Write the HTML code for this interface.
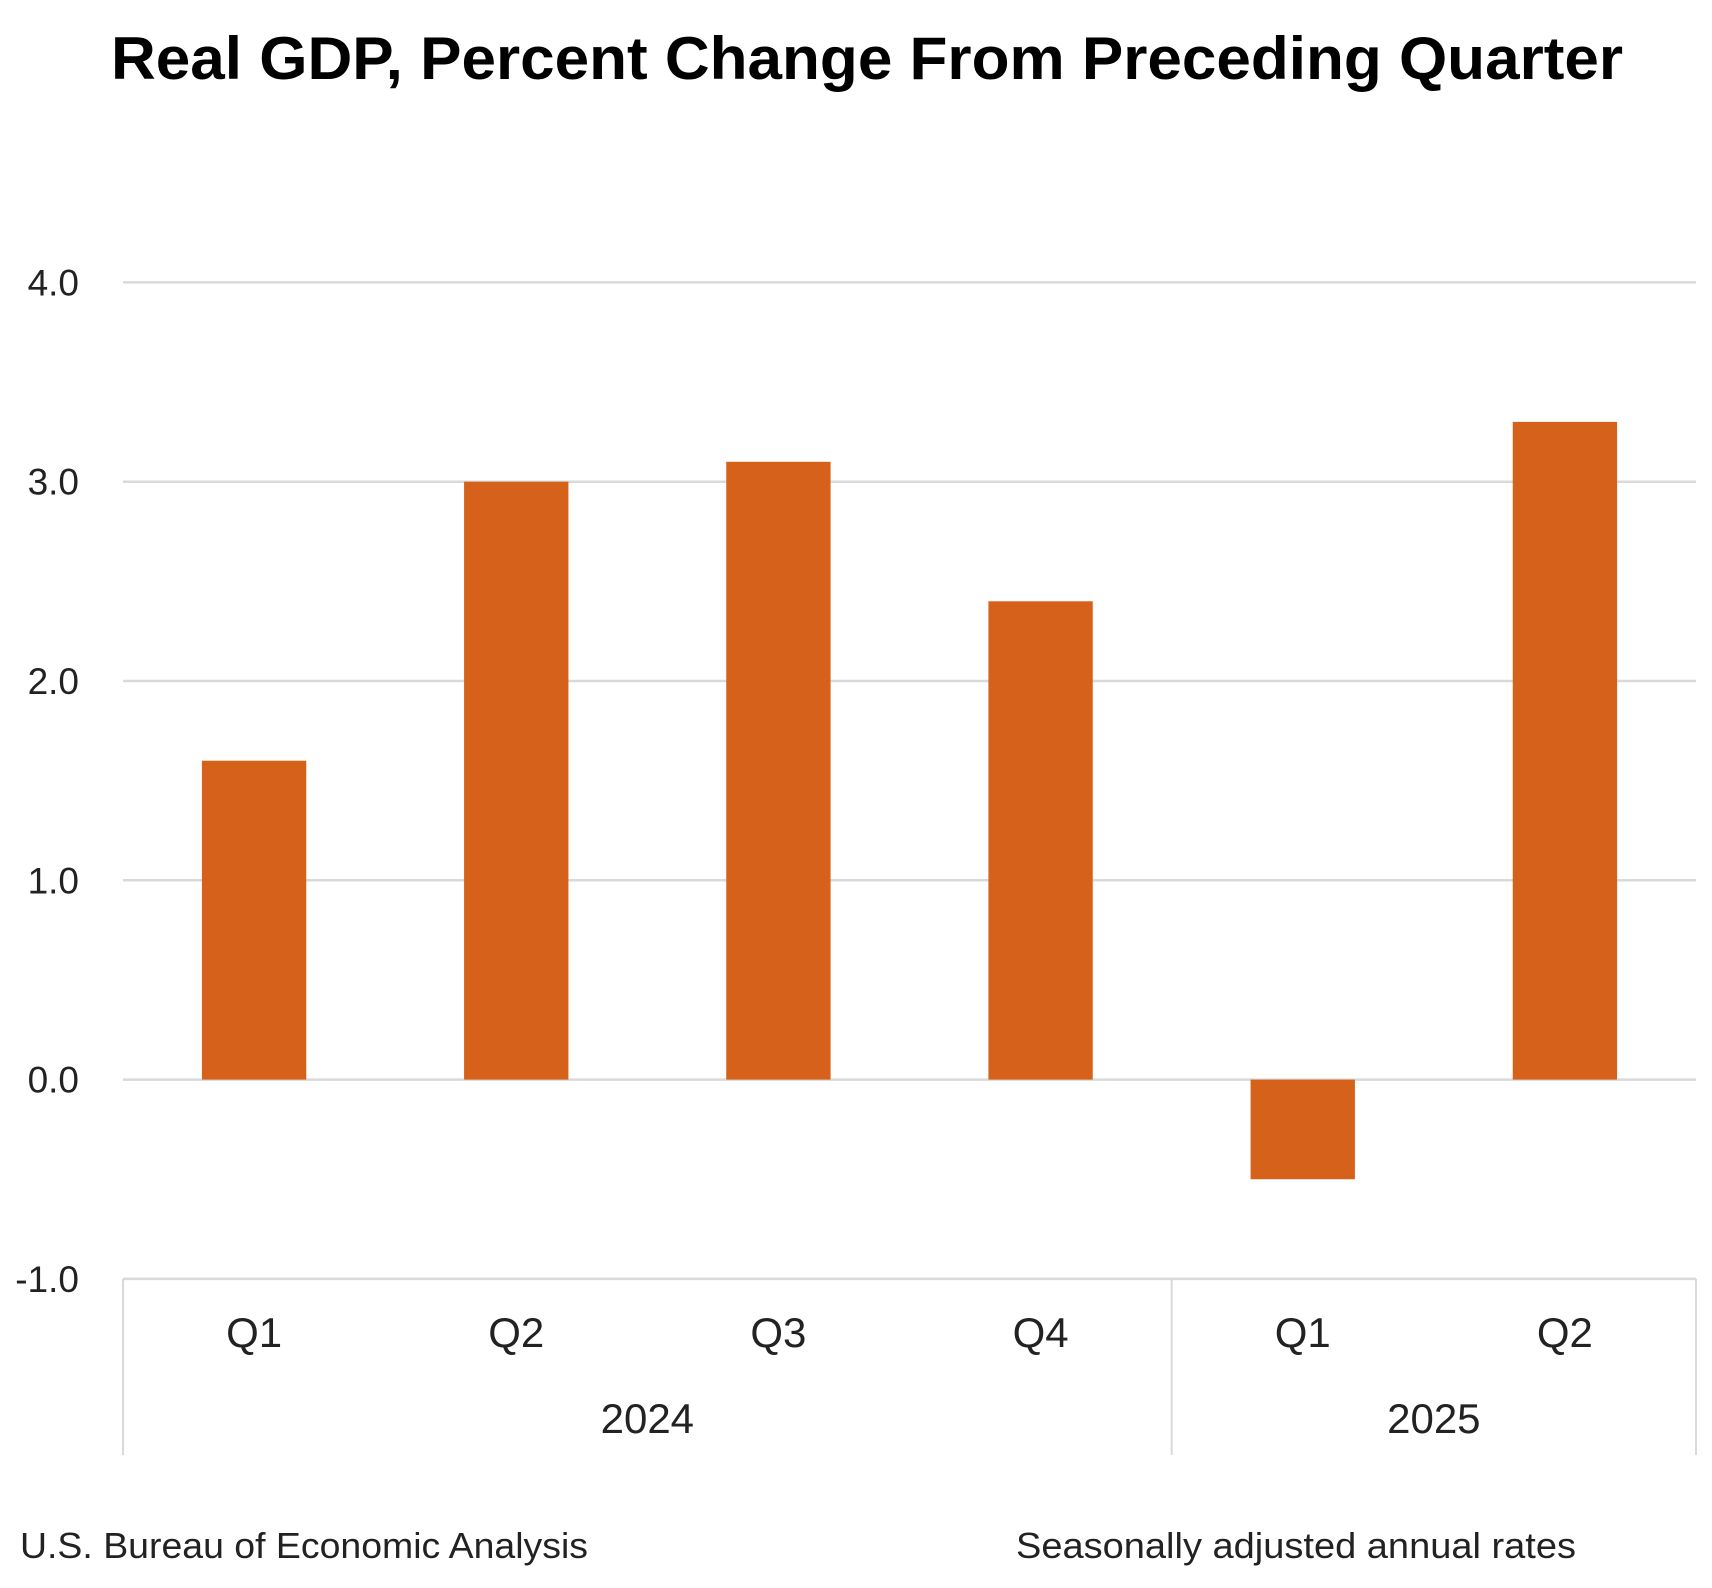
<!DOCTYPE html>
<html><head><meta charset="utf-8"><style>
html,body{margin:0;padding:0;background:#fff;}
svg{display:block;font-family:"Liberation Sans",sans-serif;}
</style></head><body>
<svg id="chart" width="1712" height="1588" viewBox="0 0 1712 1588" xmlns="http://www.w3.org/2000/svg">
<rect width="1712" height="1588" fill="#fff"/>
<text x="867" y="79" text-anchor="middle" font-size="60" font-weight="bold" textLength="1512" lengthAdjust="spacingAndGlyphs" fill="#000">Real GDP, Percent Change From Preceding Quarter</text>
<g id="grid"></g>
<g id="bars"></g>
<g id="xaxis"></g>
<text x="20" y="1558" font-size="36" fill="#222" textLength="568" lengthAdjust="spacingAndGlyphs">U.S. Bureau of Economic Analysis</text>
<text x="1016" y="1558" font-size="36" fill="#222" textLength="560" lengthAdjust="spacingAndGlyphs">Seasonally adjusted annual rates</text>
</svg>
<script>
const categories = ["Q1","Q2","Q3","Q4","Q1","Q2"];
const values = [1.6, 3.0, 3.1, 2.4, -0.5, 3.3];
const tickValues = [4, 3, 2, 1, 0, -1];
const tickLabels = ["4.0","3.0","2.0","1.0","0.0","-1.0"];
const years = ["2024","2025"];
const yearSpans = [4, 2];

const NS = "http://www.w3.org/2000/svg";
const left = 123, right = 1696, y0px = 1079.6, pxPerUnit = 199.3;
const band = (right - left) / categories.length;
const yScale = v => y0px - v * pxPerUnit;
const xCenter = i => left + band * (i + 0.5);
function mk(tag, attrs, parent){const e=document.createElementNS(NS,tag);for(const k in attrs)e.setAttribute(k,attrs[k]);parent.appendChild(e);return e;}

const grid = document.getElementById('grid');
tickValues.forEach((t,i)=>{
  const y = yScale(t);
  const ln = mk('line',{x1:left,x2:right,y1:y,y2:y,stroke:'#d9d9d9','stroke-width':2.5},grid);
  
  
  const tx = mk('text',{x:79,y:y+13,'text-anchor':'end','font-size':37,fill:'#222'},grid);
  tx.textContent = tickLabels[i];
  
  
});

const bars = document.getElementById('bars');
const bw = band * 0.398;
values.forEach((v,i)=>{
  const y = Math.min(yScale(v), yScale(0));
  const h = Math.abs(yScale(v) - yScale(0));
  const r = mk('rect',{x:xCenter(i)-bw/2,y:y,width:bw,height:h,fill:'#D5611A'},bars);
  
  
});

const xa = document.getElementById('xaxis');
const yBottom = yScale(-1);
categories.forEach((c,i)=>{
  const t = mk('text',{x:xCenter(i),y:1347,'text-anchor':'middle','font-size':42,fill:'#222'},xa);
  t.textContent = c;
  
  
});
let start = 0;
const divs = [0];
years.forEach((yr,j)=>{
  const end = start + yearSpans[j];
  divs.push(end);
  const t = mk('text',{x:left+band*(start+end)/2,y:1433,'text-anchor':'middle','font-size':42,fill:'#222'},xa);
  t.textContent = yr;
  
  
  start = end;
});
divs.forEach(d=>{
  const x = left + band*d;
  const l = mk('line',{x1:x,x2:x,y1:yBottom,y2:1455,stroke:'#d9d9d9','stroke-width':2},xa);
  
  
});
</script>
</body></html>
